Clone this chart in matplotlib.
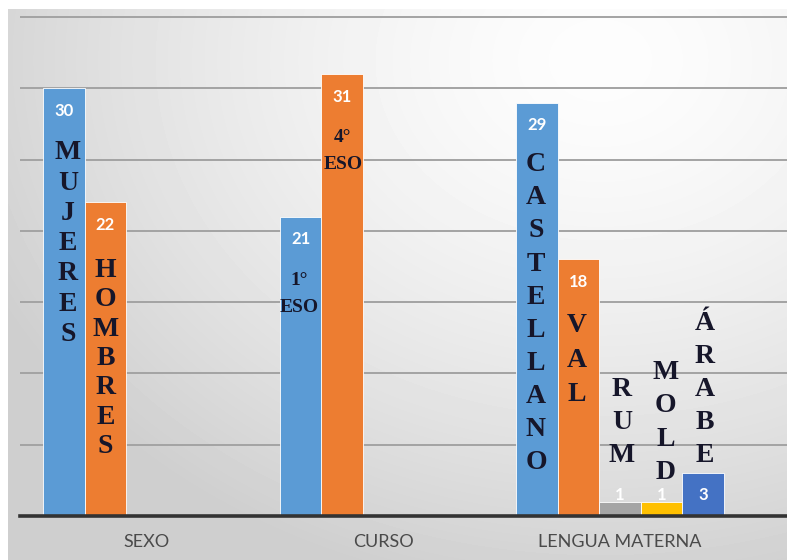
import numpy as np
import matplotlib.pyplot as plt

categorias = ["SEXO", "CURSO", "LENGUA MATERNA"]

# una serie por color; None donde la categoria no tiene barra
serie_azul = [30, 21, 29]        # mujeres, 1° ESO, castellano
serie_naranja = [22, 31, 18]     # hombres, 4° ESO, valenciano
serie_gris = [None, None, 1]     # rumano
serie_amarilla = [None, None, 1] # moldavo
serie_azul_osc = [None, None, 3] # arabe

palabras_azul = ["MUJERES", "1°|ESO", "CASTELLANO"]
palabras_naranja = ["HOMBRES", "4°|ESO", "VAL"]
palabras_resto = ["RUM", "MOLD", "ÁRABE"]

series = [serie_azul, serie_naranja, serie_gris, serie_amarilla, serie_azul_osc]
colores = ["#5B9BD5", "#ED7D31", "#A5A5A5", "#FFC000", "#4472C4"]

fig = plt.figure(figsize=(7.87, 5.6), dpi=100)

# fondo degradado gris -> blanco
H, W = 551, 779
yy, xx = np.mgrid[0:H, 0:W]
r = np.sqrt(((xx + 8 - 600) / 650.0) ** 2 + ((yy + 9 - 60) / 520.0) ** 2)
gris = np.clip(253 - 44 * r ** 1.5, 207, 253) / 255.0
fondo = fig.add_axes([8 / 787, 0, 1 - 8 / 787, 551 / 560])
fondo.imshow(gris, cmap="gray", vmin=0, vmax=1, aspect="auto")
fondo.axis("off")

ax = fig.add_axes([20 / 787, 44 / 560, 767 / 787, 506 / 560])
ax.set_facecolor("none")
ancho = 41.5 / 236.5
x = np.arange(len(categorias))
for i, (s, c) in enumerate(zip(series, colores)):
    for k, v in enumerate(s):
        if v is None:
            continue
        xb = x[k] + (i - 2) * ancho
        ax.bar(xb, v, width=ancho, color=c, edgecolor="white", linewidth=0.6, zorder=3)
        ax.text(xb, max(v - 1.6, 1.5), str(v), ha="center", va="center",
                color="white", fontsize=12, family="Lato", fontweight="bold", zorder=4)

ax.set_xlim(-127 / 236.5, 640 / 236.5)
ax.set_ylim(0, 35.5)
ax.set_yticks(np.arange(5, 36, 5))
ax.yaxis.grid(True, color="#a3a3a3", linewidth=1.4, zorder=1)
ax.tick_params(axis="y", left=False, labelleft=False)
ax.set_xticks(x)
ax.set_xticklabels(categorias, family="Lato", fontsize=13, color="#4a4a4a")
ax.tick_params(axis="x", length=0, pad=13)
for lado in ["top", "right", "left"]:
    ax.spines[lado].set_visible(False)
ax.spines["bottom"].set_color("#333333")
ax.spines["bottom"].set_linewidth(2.6)
ax.spines["bottom"].set_zorder(5)


def apilar(xc, y0, palabra, paso, dx=0, size=20):
    # letras una debajo de otra, o lineas separadas por "|"
    trozos = palabra.split("|") if "|" in palabra else list(palabra)
    for j, t in enumerate(trozos):
        ax.annotate(t, (xc, y0), xytext=(dx, -j * paso), textcoords="offset pixels",
                    ha="center", va="baseline", fontsize=size, fontweight="bold",
                    family="Liberation Serif", color="#16162a", zorder=6)


xa = x - 2 * ancho
xn = x - 1 * ancho
apilar(xa[0], 25.03, palabras_azul[0], 30.3, dx=4)
apilar(xa[1], 16.2, palabras_azul[1], 27, dx=-1, size=14)
apilar(xa[2], 24.19, palabras_azul[2], 33.1, dx=-1)
apilar(xn[0], 16.76, palabras_naranja[0], 29.3)
apilar(xn[1], 26.23, palabras_naranja[1], 27, dx=1, size=14)
apilar(xn[2], 12.9, palabras_naranja[2], 34.5, dx=-2)
apilar(x[2], 8.42, palabras_resto[0], 33, dx=2)
apilar(x[2] + ancho, 9.61, palabras_resto[1], 33.3, dx=4)
apilar(x[2] + 2 * ancho, 13.04, palabras_resto[2], 33, dx=2)

fig.savefig("out.png", dpi=100)
